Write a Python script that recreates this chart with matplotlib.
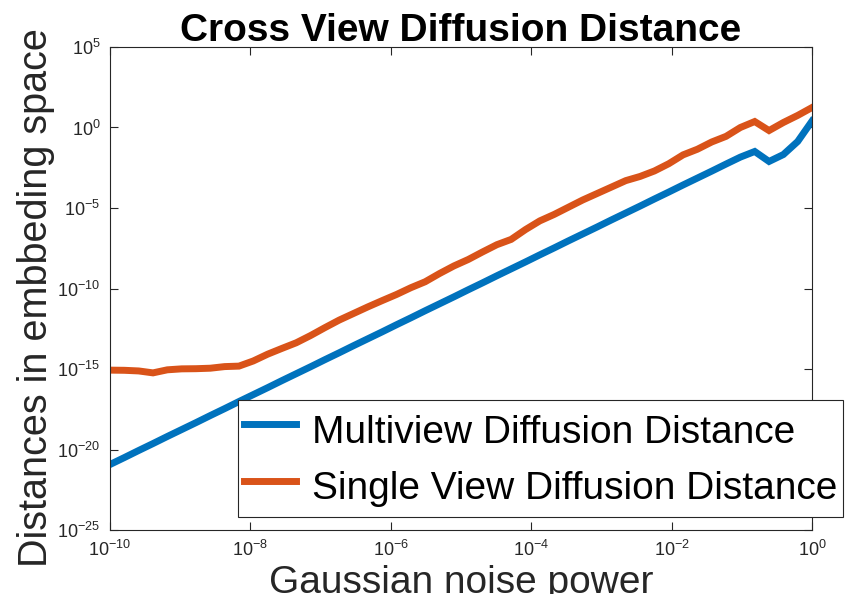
import numpy as np
import matplotlib
matplotlib.use("Agg")
import matplotlib.pyplot as plt
from matplotlib.ticker import LogLocator, NullLocator

plt.rcParams['font.family'] = ['Liberation Sans', 'DejaVu Sans']
plt.rcParams['mathtext.fontset'] = 'custom'
plt.rcParams['mathtext.rm'] = 'Liberation Sans'
plt.rcParams['mathtext.it'] = 'Liberation Sans'

# noise power exponents (50 log-spaced samples from 1e-10 to 1e0)
noise_exp = np.linspace(-10, 0, 50)

# log10 of distances
multiview_log = [-20.93, -20.50, -20.06, -19.63, -19.19, -18.76, -18.33, -17.89, -17.46, -17.02,
                 -16.59, -16.16, -15.72, -15.29, -14.86, -14.42, -13.99, -13.55, -13.12, -12.69,
                 -12.25, -11.82, -11.38, -10.95, -10.52, -10.08, -9.65, -9.21, -8.78, -8.35,
                 -7.91, -7.48, -7.04, -6.61, -6.18, -5.74, -5.31, -4.88, -4.44, -4.01,
                 -3.57, -3.14, -2.71, -2.27, -1.84, -1.49, -2.11, -1.68, -0.87, 0.40]
singleview_log = [-15.07, -15.08, -15.12, -15.24, -15.05, -14.99, -14.98, -14.95, -14.85, -14.82,
                  -14.50, -14.08, -13.72, -13.37, -12.92, -12.43, -11.96, -11.55, -11.14, -10.75,
                  -10.37, -9.95, -9.58, -9.07, -8.60, -8.20, -7.73, -7.28, -6.95, -6.34,
                  -5.80, -5.40, -4.95, -4.50, -4.10, -3.70, -3.30, -3.04, -2.70, -2.25,
                  -1.70, -1.35, -0.90, -0.55, 0.00, 0.37, -0.19, 0.31, 0.75, 1.24]

labels = ['Multiview Diffusion Distance', 'Single View Diffusion Distance']
colors = ['#0072BD', '#D95319']

x = 10.0 ** noise_exp
fig = plt.figure(figsize=(8.47, 5.94), dpi=100)
ax = fig.add_axes([0.1299, 0.1077, 0.8288, 0.8132])

ax.loglog(x, 10.0 ** np.array(multiview_log), color=colors[0], lw=5, label=labels[0],
          solid_joinstyle='miter')
ax.loglog(x, 10.0 ** np.array(singleview_log), color=colors[1], lw=5, label=labels[1],
          solid_joinstyle='miter')

ax.set_xlim(1e-10, 1e0)
ax.set_ylim(1e-25, 1e5)
ax.xaxis.set_major_locator(LogLocator(base=100.0, numticks=10))
ax.yaxis.set_major_locator(LogLocator(base=1e5, numticks=10))
ax.xaxis.set_minor_locator(NullLocator())
ax.yaxis.set_minor_locator(NullLocator())

gray = '#262626'
for s in ax.spines.values():
    s.set_color(gray)
    s.set_linewidth(0.8)
ax.tick_params(which='major', direction='in', length=6, width=0.8, colors=gray,
               labelsize=13, top=True, right=True, pad=7)

ax.set_title('Cross View Diffusion Distance', fontsize=28, fontweight='bold', pad=4)
ax.set_xlabel('Gaussian noise power', fontsize=28, color=gray, labelpad=4)
ax.set_ylabel('Distances in embbeding space', fontsize=28.5, color=gray, labelpad=2)
ax.yaxis.set_label_coords(-0.079, 0.482)

leg = fig.legend(loc='upper left', bbox_to_anchor=(0.281, 0.327), fontsize=28,
                 handlelength=1.35, handleheight=1.55, handletextpad=0.4, borderpad=0.15,
                 labelspacing=0.2, borderaxespad=0, fancybox=False, framealpha=1,
                 edgecolor=gray)
leg.get_frame().set_linewidth(0.8)

fig.savefig('out.png', dpi=100)
